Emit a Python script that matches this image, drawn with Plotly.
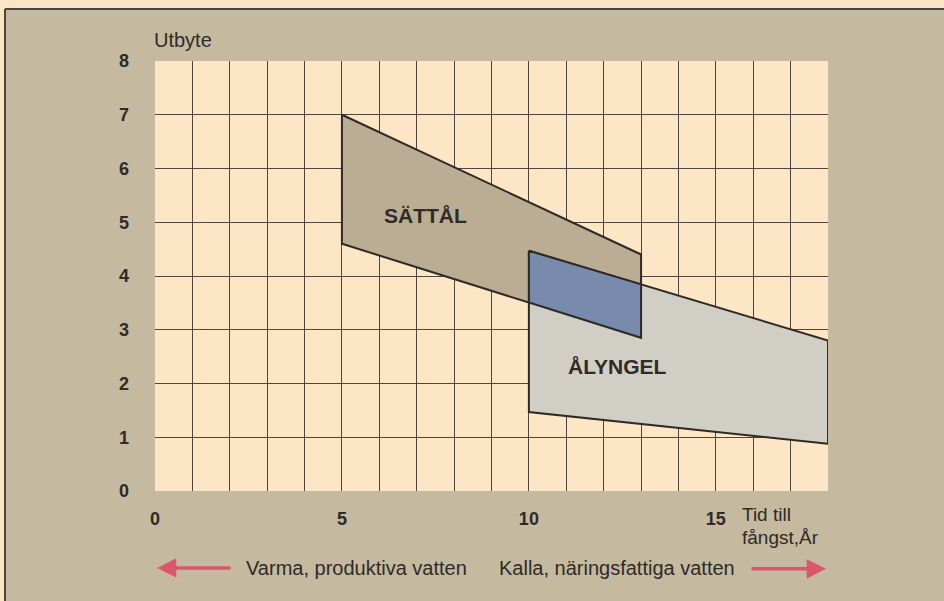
import numpy as np
import plotly.graph_objects as go

# Data
sattal_x = [5, 13, 13, 5]
sattal_y = [7.0, 4.4, 2.85, 4.6]
alyngel_x = [10, 18, 18, 10]
alyngel_y = [4.47, 2.8, 0.88, 1.47]
x_ticks = [0, 5, 10, 15]
y_ticks = [0, 1, 2, 3, 4, 5, 6, 7, 8]

# overlap region derived from the two polygons' edges
ov_x0, ov_x1 = alyngel_x[0], sattal_x[1]
top = lambda x: float(np.interp(x, [alyngel_x[0], alyngel_x[1]], [alyngel_y[0], alyngel_y[1]]))
bot = lambda x: float(np.interp(x, [sattal_x[0], sattal_x[1]], [sattal_y[3], sattal_y[2]]))
overlap_x = [ov_x0, ov_x1, ov_x1, ov_x0]
overlap_y = [top(ov_x0), top(ov_x1), bot(ov_x1), bot(ov_x0)]

LINE = "#2e2a26"
FONT = "Liberation Sans, Arial, sans-serif"
TXT = "#2f2b28"

fig = go.Figure()
fig.add_trace(go.Scatter(x=sattal_x + [sattal_x[0]], y=sattal_y + [sattal_y[0]], fill="toself",
                         fillcolor="#baad94", mode="lines", line=dict(color=LINE, width=2),
                         hoverinfo="skip", showlegend=False))
fig.add_trace(go.Scatter(x=alyngel_x + [alyngel_x[0]], y=alyngel_y + [alyngel_y[0]], fill="toself",
                         fillcolor="#d1cec5", mode="lines", line=dict(color=LINE, width=2),
                         hoverinfo="skip", showlegend=False, cliponaxis=False))
fig.add_trace(go.Scatter(x=overlap_x + [overlap_x[0]], y=overlap_y + [overlap_y[0]], fill="toself",
                         fillcolor="#798bac", mode="lines", line=dict(color=LINE, width=2),
                         hoverinfo="skip", showlegend=False))

fig.add_annotation(x=6.08, y=5.13, text="<b>SÄTTÅL</b>", showarrow=False, xanchor="left",
                   yanchor="middle", font=dict(family=FONT, size=21, color=TXT))
fig.add_annotation(x=11.0, y=2.31, text="<b>ÅLYNGEL</b>", showarrow=False, xanchor="left",
                   yanchor="middle", font=dict(family=FONT, size=21, color=TXT))

fig.add_annotation(xref="paper", yref="paper", x=0.0, y=1.049, xshift=-3,
                   text="Utbyte", showarrow=False, xanchor="left", yanchor="middle",
                   font=dict(family=FONT, size=20, color=TXT))
fig.add_annotation(xref="x", yref="paper", x=15.65, y=-0.055, text="Tid till",
                   showarrow=False, xanchor="left", yanchor="middle",
                   font=dict(family=FONT, size=19, color=TXT))
fig.add_annotation(xref="x", yref="paper", x=15.65, y=-0.107, text="fångst,År",
                   showarrow=False, xanchor="left", yanchor="middle",
                   font=dict(family=FONT, size=19, color=TXT))
fig.add_annotation(xref="paper", yref="paper", x=0.132, y=-0.179, text="Varma, produktiva vatten",
                   showarrow=False, xanchor="left", yanchor="middle",
                   font=dict(family=FONT, size=20, color=TXT))
fig.add_annotation(xref="paper", yref="paper", x=0.508, y=-0.179, text="Kalla, näringsfattiga vatten",
                   showarrow=False, xanchor="left", yanchor="middle",
                   font=dict(family=FONT, size=20, color=TXT))
# arrows
fig.add_annotation(xref="paper", yref="paper", x=0.003, y=-0.179, ax=75, ay=0,
                   text="", showarrow=True,
                   arrowhead=2, arrowsize=1.1, arrowwidth=3.5, arrowcolor="#d9566c")
fig.add_annotation(xref="paper", yref="paper", x=0.997, y=-0.181, ax=-76, ay=0,
                   text="", showarrow=True,
                   arrowhead=2, arrowsize=1.1, arrowwidth=3.5, arrowcolor="#d9566c")

# outer frame
fig.add_shape(type="rect", xref="paper", yref="paper", x0=-0.3, x1=1.5, y0=1.12, y1=1.5,
              fillcolor="#fbe5c3", line=dict(width=0), layer="below")
fig.add_shape(type="rect", xref="paper", yref="paper", x0=-0.3, x1=-0.2243, y0=-0.5, y1=1.121,
              fillcolor="#fbe5c3", line=dict(width=0), layer="below")
fig.add_shape(type="line", xref="paper", yref="paper", x0=-0.2229, x1=1.3, y0=1.1209, y1=1.1209,
              line=dict(color="#4a4540", width=2))
fig.add_shape(type="line", xref="paper", yref="paper", x0=-0.2229, x1=-0.2229, y0=-0.5, y1=1.1209,
              line=dict(color="#4a4540", width=2))

fig.update_xaxes(range=[0, 18], tickvals=x_ticks, ticktext=[f"<b>{v}</b>" for v in x_ticks],
                 showgrid=True, gridcolor="#4e463c", gridwidth=1, zeroline=False,
                 showline=False, ticks="", tickfont=dict(family=FONT, size=18, color=TXT),
                 minor=dict(dtick=1, showgrid=True, gridcolor="#4e463c", gridwidth=1),
                 ticklabelstandoff=15, fixedrange=True)
fig.update_yaxes(range=[0, 8], tickvals=y_ticks, ticktext=[f"<b>{v}</b>" for v in y_ticks],
                 showgrid=True, gridcolor="#4e463c", gridwidth=1, zeroline=False, showline=False,
                 ticks="", ticklabelstandoff=25, tickfont=dict(family=FONT, size=18, color=TXT),
                 fixedrange=True)

fig.update_layout(width=944, height=601, margin=dict(l=155, r=116, t=61, b=110),
                  paper_bgcolor="#c5b99f", plot_bgcolor="#fde6c5")

fig.write_html("out.html", post_script="document.body.style.margin='0';",
               config={"displayModeBar": False})
